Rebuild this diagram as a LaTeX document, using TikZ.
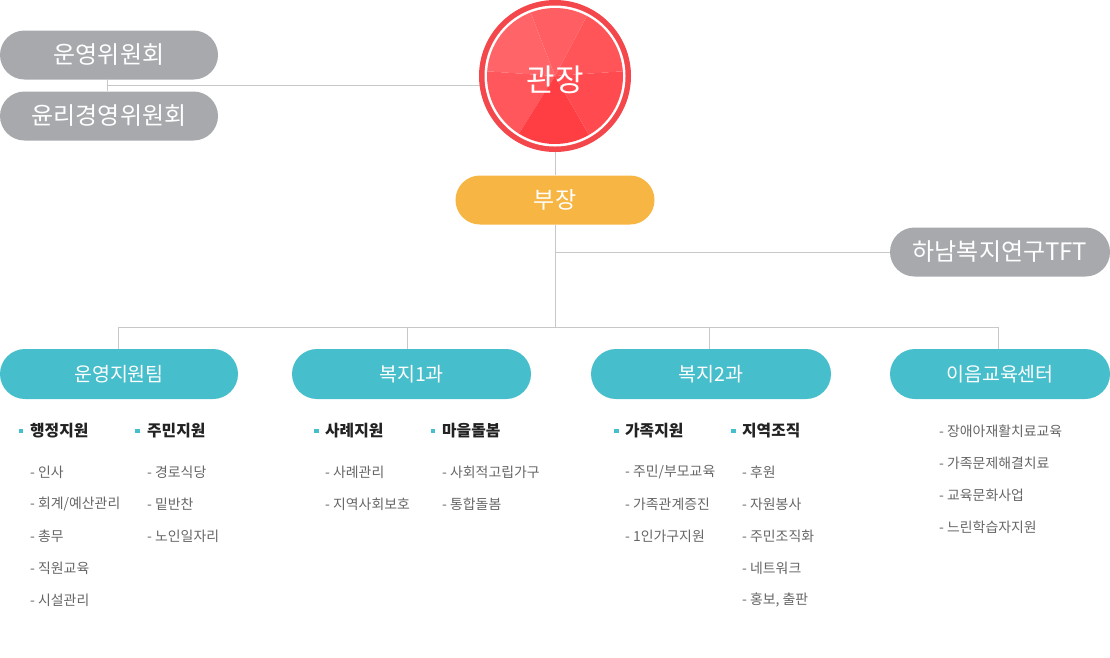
\documentclass[tikz,border=0pt]{standalone}
\usepackage{fontspec}
\setmainfont{Noto Sans CJK KR}
\usetikzlibrary{positioning}
\definecolor{cgray}{HTML}{A8A9AD}
\definecolor{cteal}{HTML}{46BECB}
\definecolor{corange}{HTML}{F7B543}
\definecolor{cred}{HTML}{F4474C}
\definecolor{cline}{HTML}{C8C8C8}
\definecolor{chdr}{HTML}{222222}
\definecolor{citem}{HTML}{666666}
\definecolor{wa}{HTML}{FF5458}
\definecolor{wb}{HTML}{FF5E62}
\definecolor{wc}{HTML}{FF6568}
\definecolor{wd}{HTML}{FF575B}
\definecolor{we}{HTML}{FF3E43}
\definecolor{wf}{HTML}{FF4A4F}
\pgfdeclarelayer{bg}
\pgfsetlayers{bg,main}
\begin{document}
\begin{tikzpicture}[x=1pt,y=-1pt,
  pillbase/.style={rectangle, rounded corners=24.5pt, minimum height=49pt, inner sep=0pt, text=white, font=\fontsize{24}{28}\selectfont},
  graypill/.style={pillbase, fill=cgray},
  orangepill/.style={pillbase, fill=corange, font=\fontsize{23}{26}\selectfont},
  tealpill/.style={pillbase, fill=cteal, minimum height=50pt, rounded corners=25pt, font=\fontsize{19.5}{23}\selectfont},
  conn/.style={draw=cline, line width=0.9pt},
  sq/.style={rectangle, fill=cteal, minimum size=4.5pt, inner sep=0pt},
  hdr/.style={anchor=west, inner sep=0pt, text=chdr, font=\fontsize{15.8}{19}\selectfont\bfseries},
  itm/.style={anchor=west, inner sep=0pt, text=citem, font=\fontsize{13.9}{17}\selectfont}]
\useasboundingbox (0,0) rectangle (1110,657);

% top-left committees
\node[graypill, minimum width=218pt] (c1) at (109,55) {운영위원회};
\node[graypill, minimum width=218pt] (c2) at (109,116) {윤리경영위원회};

% director circle (angles in canvas orientation)
\coordinate (hc) at (555,76);
\fill[cred] (hc) circle (76pt);
\fill[white] (hc) circle (70.5pt);
\fill[wa] (hc) -- ++(4:68pt) arc[start angle=4, end angle=62, radius=68pt] -- cycle;
\fill[wb] (hc) -- ++(62:68pt) arc[start angle=62, end angle=111, radius=68pt] -- cycle;
\fill[wc] (hc) -- ++(111:68pt) arc[start angle=111, end angle=176, radius=68pt] -- cycle;
\fill[wd] (hc) -- ++(176:68pt) arc[start angle=176, end angle=238, radius=68pt] -- cycle;
\fill[we] (hc) -- ++(238:68pt) arc[start angle=238, end angle=300, radius=68pt] -- cycle;
\fill[wf] (hc) -- ++(300:68pt) arc[start angle=300, end angle=364, radius=68pt] -- cycle;
\node[circle, minimum size=152pt, inner sep=0pt, text=white, yshift=-4pt, font=\fontsize{31}{34}\selectfont] (head) at (hc) {관장};

% vice director
\node[orangepill, minimum width=199pt] (boss) at (555,200) {부장};

% TFT
\node[graypill, minimum width=220pt] (tft) at (1000,252) {하남복지연구TFT};

% teams
\node[tealpill, minimum width=238pt] (t1) at (119,374) {운영지원팀};
\node[tealpill, minimum width=239pt] (t2) at (411.5,374) {복지1과};
\node[tealpill, minimum width=240pt] (t3) at (711,374) {복지2과};
\node[tealpill, minimum width=220pt] (t4) at (1000,374) {이음교육센터};

% connectors
\coordinate (j1) at (107,85);
\coordinate (bus) at (557,327);
\begin{pgfonlayer}{bg}
  \draw[conn] ([xshift=-2pt]c1.south) -- ([xshift=-2pt]c2.north);
  \draw[conn] (j1) -- (hc |- j1);
  \draw[conn] (hc) -- (boss.north);
  \draw[conn] (boss.south) -- (boss.south |- bus);
  \draw[conn] (boss.south |- tft) -- (tft.west);
  \draw[conn] ([xshift=-1pt]t1.north) |- ([xshift=-2pt]t4.north |- bus) -- ([xshift=-2pt]t4.north);
  \draw[conn] ([xshift=-4pt]t2.north) -- ([xshift=-4pt]t2.north |- bus);
  \draw[conn] ([xshift=-2pt]t3.north) -- ([xshift=-2pt]t3.north |- bus);
\end{pgfonlayer}

% team 1
\node[sq] (s1a) at (21,431) {};
\node[hdr] (h1a) at (30,431) {행정지원};
\node[sq] (s1b) at (137.5,431) {};
\node[hdr] (h1b) at (147,431) {주민지원};
\foreach \t [count=\i] in {인사,회계/예산관리,총무,직원교육,시설관리}
  \node[itm] (i1a\i) at (30,440+32*\i) {- \t};
\foreach \t [count=\i] in {경로식당,밑반찬,노인일자리}
  \node[itm] (i1b\i) at (147,440+32*\i) {- \t};

% team 2
\node[sq] (s2a) at (316.5,431) {};
\node[hdr] (h2a) at (325,431) {사례지원};
\node[sq] (s2b) at (433,431) {};
\node[hdr] (h2b) at (442,431) {마을돌봄};
\foreach \t [count=\i] in {사례관리,지역사회보호}
  \node[itm] (i2a\i) at (325,440+32*\i) {- \t};
\foreach \t [count=\i] in {사회적고립가구,통합돌봄}
  \node[itm] (i2b\i) at (442,440+32*\i) {- \t};

% team 3
\node[sq] (s3a) at (616.5,431) {};
\node[hdr] (h3a) at (625,431) {가족지원};
\node[sq] (s3b) at (733.5,431) {};
\node[hdr] (h3b) at (742,431) {지역조직};
\foreach \t [count=\i] in {주민/부모교육,가족관계증진,1인가구지원}
  \node[itm] (i3a\i) at (625,440+32*\i) {- \t};
\foreach \t [count=\i] in {후원,자원봉사,주민조직화,네트워크,{홍보, 출판}}
  \node[itm] (i3b\i) at (742,440+32*\i) {- \t};

% team 4
\foreach \t [count=\i] in {장애아재활치료교육,가족문제해결치료,교육문화사업,느린학습자지원}
  \node[itm] (i4\i) at (939,399+32*\i) {- \t};
\end{tikzpicture}
\end{document}
